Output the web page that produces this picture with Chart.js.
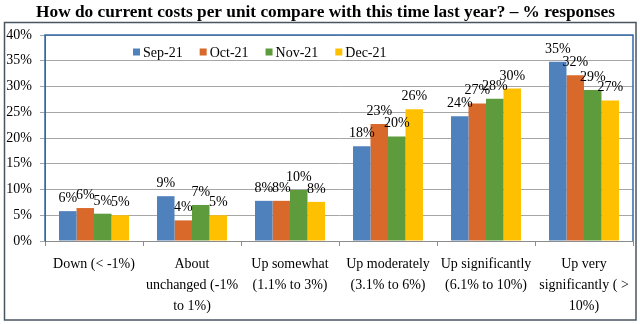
<!DOCTYPE html>
<html><head><meta charset="utf-8">
<script src="https://cdn.jsdelivr.net/npm/chart.js@4/dist/chart.umd.min.js"></script>
<style>html,body{margin:0;padding:0;background:#fff}#wrap{width:640px;height:324px}</style>
</head><body><div id="wrap"><canvas id="c" width="640" height="324"></canvas></div>
<script>
const chartTitle = 'How do current costs per unit compare with this time last year? \u2013 % responses';
const categories = [
  'Down (< -1%)',
  ['About', 'unchanged (-1%', 'to 1%)'],
  ['Up somewhat', '(1.1% to 3%)'],
  ['Up moderately', '(3.1% to 6%)'],
  ['Up significantly', '(6.1% to 10%)'],
  ['Up very', 'significantly ( >', '10%)']
];
const seriesNames = ['Sep-21', 'Oct-21', 'Nov-21', 'Dec-21'];
const sep21 = [5.8, 8.7, 7.8, 18.4, 24.2, 34.8];
const oct21 = [6.4, 4.0, 7.8, 22.7, 26.7, 32.2];
const nov21 = [5.3, 7.0, 9.9, 20.3, 27.6, 29.3];
const dec21 = [5.0, 5.0, 7.6, 25.6, 29.6, 27.3];
const yTickValues = [0, 5, 10, 15, 20, 25, 30, 35, 40];

const FONT = '"Liberation Serif", "Times New Roman", serif';
const colors = ['#4F81BD', '#D8692A', '#5E9B3C', '#FFC000'];
const seriesData = [sep21, oct21, nov21, dec21];

const decorPlugin = {
  id: 'decor',
  afterDraw(chart) {
    const ctx = chart.ctx;
    const a = chart.chartArea;
    ctx.save();
    // title
    ctx.fillStyle = '#000';
    ctx.font = 'bold 17.3px ' + FONT;
    ctx.textAlign = 'center';
    ctx.textBaseline = 'middle';
    ctx.fillText(chartTitle, (a.left + a.right) / 2 - 13.5, 12.2);
    // outer frame
    ctx.strokeStyle = '#4a5560';
    ctx.lineWidth = 1.5;
    ctx.strokeRect(4.5, 22.5, 631.5, 297.5);
    // plot area frame (left, top, right)
    ctx.strokeStyle = '#3569A5';
    ctx.lineWidth = 1.5;
    ctx.beginPath();
    ctx.moveTo(a.left, a.bottom);
    ctx.lineTo(a.left, a.top);
    ctx.lineTo(a.right, a.top);
    ctx.lineTo(a.right, a.bottom);
    ctx.stroke();
    // data labels
    ctx.fillStyle = '#000';
    ctx.font = '14px ' + FONT;
    ctx.textAlign = 'center';
    ctx.textBaseline = 'alphabetic';
    chart.data.datasets.forEach((ds, di) => {
      const meta = chart.getDatasetMeta(di);
      meta.data.forEach((bar, i) => {
        ctx.fillText(Math.round(ds.data[i]) + '%', bar.x, bar.y - 9);
      });
    });
    // legend
    ctx.textAlign = 'left';
    ctx.textBaseline = 'middle';
    let x = a.left + 88;
    const y = a.top + 17;
    chart.data.datasets.forEach((ds) => {
      ctx.fillStyle = ds.backgroundColor;
      ctx.fillRect(x, y - 3.5, 7, 7);
      ctx.fillStyle = '#000';
      ctx.fillText(ds.label, x + 10, y + 1);
      x += 10 + ctx.measureText(ds.label).width + 17;
    });
    ctx.restore();
  }
};

new Chart(document.getElementById('c'), {
  type: 'bar',
  data: {
    labels: categories,
    datasets: seriesNames.map((n, i) => ({
      label: n,
      data: seriesData[i],
      backgroundColor: colors[i],
      borderWidth: 0,
      categoryPercentage: 0.714,
      barPercentage: 1.0
    }))
  },
  options: {
    responsive: false,
    animation: false,
    devicePixelRatio: 1,
    layout: { padding: { left: 0, right: 7, top: 35, bottom: 0 } },
    plugins: {
      legend: { display: false },
      tooltip: { enabled: false },
      title: { display: false }
    },
    scales: {
      x: {
        offset: true,
        grid: { offset: true, drawOnChartArea: false, drawTicks: true, tickLength: 5, color: '#8c8c8c' },
        border: { color: '#8c8c8c', width: 1 },
        ticks: { font: { family: FONT, size: 14, lineHeight: 1.5 }, color: '#000', maxRotation: 0, minRotation: 0, autoSkip: false, padding: 8 },
        afterFit(s) { s.height = 83; }
      },
      y: {
        min: 0, max: 40,
        afterBuildTicks(s) { s.ticks = yTickValues.map(v => ({ value: v })); },
        ticks: { callback: v => v + '%', font: { family: FONT, size: 14 }, color: '#000', padding: 8 },
        grid: { color: '#a6a6a6', tickLength: 5, drawTicks: true },
        border: { color: '#3569A5', width: 1 },
        afterFit(s) { s.width = 45; }
      }
    }
  },
  plugins: [decorPlugin]
});
</script>
</body></html>
